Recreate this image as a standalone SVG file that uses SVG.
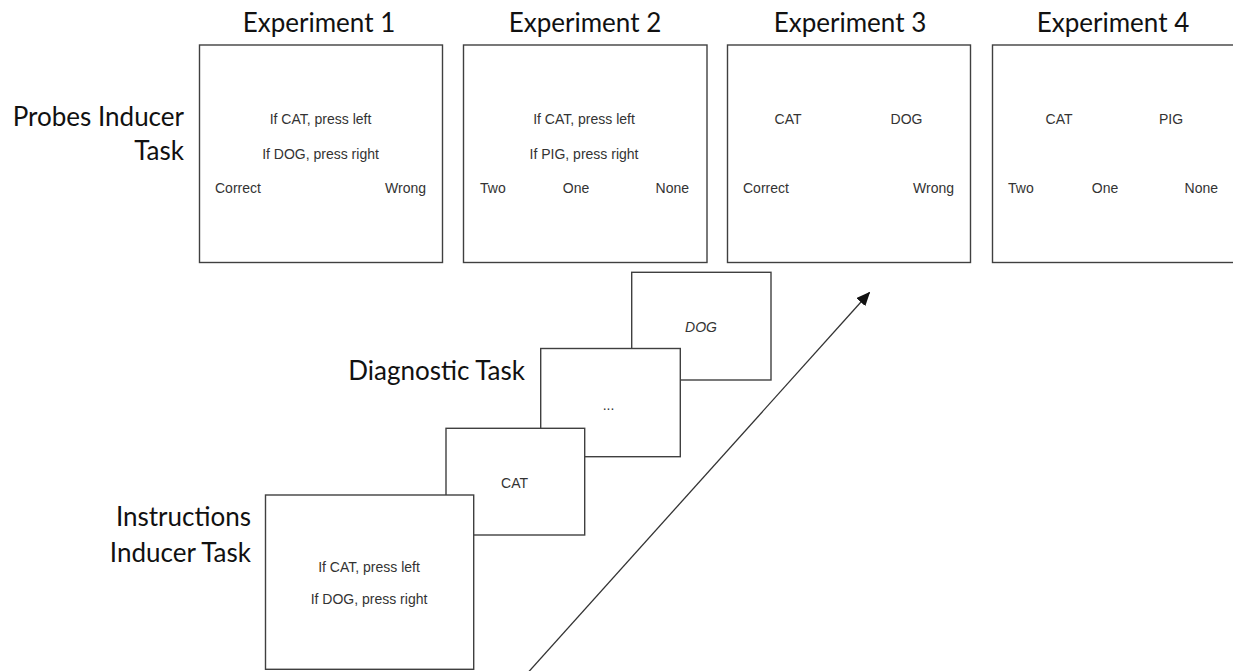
<svg xmlns="http://www.w3.org/2000/svg" width="1233" height="671" viewBox="0 0 1233 671">
<style>
.box{fill:#fff;stroke:#404040;stroke-width:1.4}
.t{font-family:"Liberation Sans",Arial,sans-serif;font-size:14px;fill:#333}
.lbl{font-family:Lato,"Open Sans",sans-serif;font-size:26px;fill:#111}
.title{font-family:Lato,"Open Sans",sans-serif;font-size:26px;fill:#111;text-anchor:middle}
.m{text-anchor:middle}
.e{text-anchor:end}
</style>
<defs>
<marker id="ah" markerWidth="14" markerHeight="12" refX="13" refY="6" orient="auto" markerUnits="userSpaceOnUse">
<path d="M0,0 L14,6 L0,12 Z" fill="#111"/>
</marker>
</defs>
<rect width="1233" height="671" fill="#fff"/>

<g id="label-probes">
<text class="lbl e" x="184" y="126">Probes Inducer</text>
<text class="lbl e" x="184" y="160">Task</text>
</g>

<g id="exp1">
<text class="title" x="319" y="32">Experiment 1</text>
<rect class="box" x="199.5" y="45" width="243" height="217.5"/>
<text class="t m" x="320.5" y="124">If CAT, press left</text>
<text class="t m" x="320.5" y="159">If DOG, press right</text>
<text class="t" x="215" y="193">Correct</text>
<text class="t e" x="426" y="193">Wrong</text>
</g>

<g id="exp2">
<text class="title" x="585" y="32">Experiment 2</text>
<rect class="box" x="463.5" y="45" width="243.5" height="217.5"/>
<text class="t m" x="584" y="124">If CAT, press left</text>
<text class="t m" x="584" y="159">If PIG, press right</text>
<text class="t" x="480" y="193">Two</text>
<text class="t m" x="576" y="193">One</text>
<text class="t e" x="689" y="193">None</text>
</g>

<g id="exp3">
<text class="title" x="850" y="32">Experiment 3</text>
<rect class="box" x="727.5" y="45" width="243" height="217.5"/>
<text class="t m" x="788" y="124">CAT</text>
<text class="t m" x="906.5" y="124">DOG</text>
<text class="t" x="743" y="193">Correct</text>
<text class="t e" x="954" y="193">Wrong</text>
</g>

<g id="exp4">
<text class="title" x="1113" y="32">Experiment 4</text>
<rect class="box" x="992.5" y="45" width="243" height="217.5"/>
<text class="t m" x="1059" y="124">CAT</text>
<text class="t m" x="1171" y="124">PIG</text>
<text class="t" x="1008" y="193">Two</text>
<text class="t m" x="1105" y="193">One</text>
<text class="t e" x="1218" y="193">None</text>
</g>

<g id="connectors">
<line x1="528.5" y1="672" x2="869.5" y2="292.5" stroke="#333" stroke-width="1.3" marker-end="url(#ah)"/>
</g>

<g id="trial-dog">
<rect class="box" x="631.7" y="272.3" width="139.3" height="107.7"/>
<text class="t m" x="701" y="332" font-style="italic">DOG</text>
</g>

<g id="trial-ellipsis">
<rect class="box" x="540.7" y="348.5" width="139.6" height="108.2"/>
<text class="t m" x="608.5" y="410">...</text>
</g>

<g id="label-diagnostic">
<text class="lbl e" x="525" y="380" font-size="25">Diagnostic Task</text>
</g>

<g id="trial-cat">
<rect class="box" x="446" y="428.3" width="138.7" height="106.7"/>
<text class="t m" x="514.5" y="488" fill="#111">CAT</text>
</g>

<g id="instructions">
<rect class="box" x="265.5" y="495" width="208.2" height="174.3"/>
<text class="t m" x="369" y="572">If CAT, press left</text>
<text class="t m" x="369" y="604">If DOG, press right</text>
</g>

<g id="label-instructions">
<text class="lbl e" x="251" y="526">Instructions</text>
<text class="lbl e" x="251" y="562">Inducer Task</text>
</g>
</svg>
